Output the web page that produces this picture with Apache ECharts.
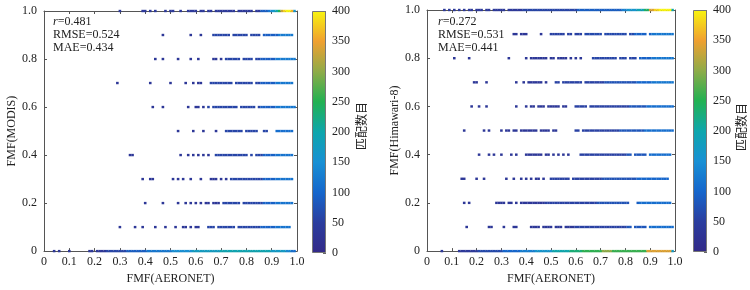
<!DOCTYPE html>
<html><head><meta charset="utf-8">
<script src="https://cdn.jsdelivr.net/npm/echarts@6/dist/echarts.min.js"></script>
<style>html,body{margin:0;padding:0;background:#fff}#c{width:750px;height:290px}</style>
</head><body><div id="c"></div>
<script>
// ---- colour scale (匹配数目) ----
const cbTicks = [0, 50, 100, 150, 200, 250, 300, 350, 400];
const cbColors = ['#332a88','#2b3d9e','#1566cc','#1890d4','#0ea6ac','#22b152','#8fab48','#f0a030','#f8f40f'];
const statsModis = ['0.481', '0.524', '0.434'];
const statsHima = ['0.272', '0.531', '0.441'];

// ---- FMF(MODIS) vs FMF(AERONET): rows of [count, x*100 list] ----
const modis10 = [[40,[30,39,40,42,44,48,50,51,54,57,58,59,60,62,63,65,66,68,69,70,71,72,73,74,75,77,78,79,80,81,82,84,85]],[90,[86,87,88]],[120,[89]],[150,[90]],[170,[91]],[200,[92]],[250,[93]],[330,[94]],[380,[95]],[400,[96,97]],[360,[98]],[160,[99]]];
const modis09 = [[35,[47,58,62]],[60,[67,68,69,70,71,72,73,75,76,77,78,79,80,82,83,84,85]],[90,[87,88,89,90,91,92]],[125,[93,94,95,96,97,98]]];
const modis08 = [[35,[44,47,53,58,61,67,68,70]],[60,[72,73,74,75,76,77,79,80,81,82,84,85]],[90,[86,87,88,89,90,91]],[125,[92,93,94,95,96,97,98,99]]];
const modis07 = [[35,[29,42,50,56,59,61,62]],[60,[66,67,68,69,70,71,72,73,74,76,77,78,79,80,81,82,84,85]],[90,[86,87,88,89,90,91]],[120,[92,93,94,95,96,97,98]]];
const modis06 = [[35,[43,47,57,60,61,63]],[60,[65,67,68,69,70,71,72,73,74,75,76,78,79,80,81,82,83,85]],[90,[86,87,88,89,90,91]],[120,[92,93,94,95,96,97,98,99]]];
const modis05 = [[35,[53,59,63,68]],[60,[72,73,74,75,76,77,78,80,81,82,83,84,87,88]],[110,[92,93,94,95,96,97,98]]];
const modis04 = [[35,[34,35,54,57,59,61,63,65]],[60,[68,69,70,71,72,73,74,75,76,77,78,79,80,82,84,85,86]],[95,[87,88,89,90,91]],[115,[92,93,94,95,96,97,98]]];
const modis03 = [[35,[39,42,43,51,53,55,58,62,66,67,68,70,72]],[60,[74,75,76,77,78,79,80,81,82,83,84,85,86]],[95,[87,88,89,90,91]],[115,[92,93,94,95,96,97,98]]];
const modis02 = [[35,[40,47,53,56,58,60,62,64,65,67,68,69]],[60,[71,72,73,74,75,76,77,79,80,81,82,83,84,85,86]],[95,[87,88,89,90,91]],[115,[92,93,94,95,96,97,98]]];
const modis01 = [[35,[30,36,39,44,48,52,55,56,58,60,61]],[60,[65,66,67,69,70,71,72,73,74,75,77,78,79,80,81,82,83,84,85]],[95,[86,87,88,89,90,91]],[115,[92,93,94,95,96,97]]];
const modis00 = [[35,[4,6,10,18,19,21,22,23,24]],[60,[25,26,27,28,29,30,31,32]],[90,[33,34,35,36,37,38,39,40]],[120,[41,42,43,44,45,46,47,48,49,50]],[150,[51,52,53,54,55,56,57,58]],[175,[59,60,61,62,63,64,65,66,67,68,69]],[195,[70,71,72,73,74,75,76,77,78,79,80,81,82,83,84,85,86,87,88,89]],[170,[90,91,92,93,94,95]],[140,[96,97]],[110,[98,99]]];

// ---- FMF(Himawari-8) vs FMF(AERONET) ----
const hima10 = [[40,[7,9,11,13,15,17,18,20,21,22,24,25,27,28,29,30,31,33,34,35,36,37,38]],[60,[39,40,41,42,43,44,45,46,47,48,49,50,51,52,53,54,55,56,57,58,59,60]],[90,[61,62,63,64,65,66,67,68,69,70,71,72,73,74,75,76,77,78]],[130,[79,80]],[160,[81,82,83,84]],[190,[85,86,87]],[240,[88,89]],[340,[90,91]],[380,[92,93]],[400,[94,95,96,97,98]],[200,[99]]];
const hima09 = [[35,[35,36,38,39,40,46]],[55,[50,51,52,53,54,55,57,58,60,61,62]],[65,[64,65,66,67,68,69,70,72,73,74,75,76,77,78,79,80,82,83]],[95,[84,85,86,87,88,90]],[120,[91,92,93,94,95,96,97,98,99]]];
const hima08 = [[35,[11,17,33,40,42,43,44,45,46,47,48,50,51,53,54,55,56,58,60,62]],[60,[67,68,69,70,71,72,73,74,75,76,78,79,80,82,83,84]],[95,[86,87,88,89,90]],[120,[91,92,93,94,95,96,97,98,99]]];
const hima07 = [[35,[19,20,24,36,39,41,42,43,44,45,46,48]],[55,[52,53,55,56,57,58,59,60,61,62,64,65,66,67,68,69,70,71]],[75,[72,73,74,75,76,77,78,79,80,81,82,83,84]],[100,[85,86,87,88,89,90]],[120,[91,92,93,94,95,96,97,98,99]]];
const hima06 = [[35,[18,21,24,36,40,42,43,45,46,47,49,50,51,52,53,55,56]],[55,[60,61,62,63,64,66,67,68,69,70,71,72,73,74,75,76,77,78,79,80,81]],[80,[82,83,84,85,86,87,88]],[110,[89,90,91,92,93,94,95,96,97,98,99]]];
const hima05 = [[35,[15,23,25,30,32,33,35,36,38,39,40,41,42,43,44,46,47,48,49,51,52]],[55,[60,61,63,64,65,66,67,68,69,70,71,72,73,74,75,76,77]],[80,[78,79,80,81,82,83,84,85,86,87]],[110,[88,89,90,91,92,93,94,95,96,97,98,99]]];
const hima04 = [[35,[21,25,27,30,34,36,40,41,42,43,44,45,46,48,49,51,53,55,57]],[55,[62,63,64,65,66,67,68,69,70,71,72,73,74,75,76,77,78,79,80]],[80,[81,82,84,85,86,87,88]],[110,[90,91,92,93,94,95,96,97,98]]];
const hima03 = [[35,[14,15,20,23,32,35,38,40,42,44,45,47]],[55,[50,51,52,53,54,55,56,57,59,60,61,62,63,64,65,66,67,68,69,70]],[75,[71,72,73,74,75,76,77,78,79,80,81,82,83,84]],[100,[85,86,87,88,89,90,91,92,93,94,95,96,97]]];
const hima02 = [[35,[15,17,28,29,30,31,33,34,36,38,39,40,41,42,43,44,45,46,47]],[55,[48,49,50,51,52,53,54,55,56,57,58,59,60,61,62,63,64,65,66,67,68]],[75,[69,70,71,72,73,74,75,76,77,78,79,80,81]],[90,[85]],[110,[86,87,88,89,90,91,92,93,94,95,96,97,98]]];
const hima01 = [[35,[16,25,26,31,35,36,42,43,44,45,47,48,49,50,52,53,54,56,57,58,59]],[55,[60,61,62,63,64,65,66,67,68,69,70,71,72,73,74,75,76,77,78,79,80]],[80,[81,82,84,85,86,87,88]],[110,[90,91,92,93,94,95,96,97,98,99]]];
const hima00 = [[40,[6,13,14,15,16,17,18,19,20]],[65,[21,22,23,24,25,26,27,28,29,30]],[100,[31,32,33,34,35,36,37]],[130,[38,39,40,41,42,43]],[160,[44,45,46,47,48,49,50]],[200,[51,52,53,54,55,56,57]],[230,[58,59,60,61,62]],[255,[63,64,65,66,67,68,69,70]],[300,[71,72,73,74]],[260,[75,76,77,78,79,80,81,82,83,84,85,86,87,88]],[340,[89,90,91,92,93,94,95,96,97,98]],[170,[99]]];

const modisRows = [[1.0,modis10],[0.9,modis09],[0.8,modis08],[0.7,modis07],[0.6,modis06],[0.5,modis05],[0.4,modis04],[0.3,modis03],[0.2,modis02],[0.1,modis01],[0,modis00]];
const himaRows = [[1.0,hima10],[0.9,hima09],[0.8,hima08],[0.7,hima07],[0.6,hima06],[0.5,hima05],[0.4,hima04],[0.3,hima03],[0.2,hima02],[0.1,hima01],[0,hima00]];

function build(rows){
  const out=[];
  rows.forEach(([y,groups])=>groups.forEach(([n,xs])=>xs.forEach(x=>out.push([x/100,y,n]))));
  out.sort((a,b)=>a[2]-b[2]);
  return out;
}

const SERIF = '"Liberation Serif","Times New Roman",serif';
const CJK = '"Noto Sans CJK SC",sans-serif';
const axisCol = '#555';
const fmt1 = v => (Math.abs(v) < 1e-9 ? '0' : Number(v).toFixed(1));

function mainX(grid, show){
  return {gridIndex:grid, type:'value', min:0, max:1, interval:0.1, position: show?'bottom':'top',
    name: show?'FMF(AERONET)':'', nameLocation:'middle', nameGap:18,
    nameTextStyle:{fontFamily:SERIF,fontSize:12,color:'#222'},
    axisLine:{show:true,onZero:false,lineStyle:{color:axisCol,width:1}},
    axisTick:{show:true,inside:true,length:3,lineStyle:{color:axisCol}},
    axisLabel:{show:show,margin:5,formatter:fmt1,fontFamily:SERIF,fontSize:12,color:'#222'},
    splitLine:{show:false}};
}
function mainY(grid, show, name){
  return {gridIndex:grid, type:'value', min:0, max:1, interval:0.2, position: show?'left':'right',
    name: show?name:'', nameLocation:'middle', nameGap:22,
    nameTextStyle:{fontFamily:SERIF,fontSize:12,color:'#222'},
    axisLine:{show:true,onZero:false,lineStyle:{color:axisCol,width:1}},
    axisTick:{show:true,inside:true,length:3,lineStyle:{color:axisCol}},
    axisLabel:{show:show,margin:7,formatter:fmt1,fontFamily:SERIF,fontSize:12,color:'#222'},
    splitLine:{show:false}};
}
function cbX(grid){
  return {gridIndex:grid,type:'category',data:['c'],show:false,boundaryGap:false};
}
function cbY(grid){
  return {gridIndex:grid,type:'value',min:cbTicks[0],max:cbTicks[cbTicks.length-1],interval:cbTicks[1]-cbTicks[0],position:'right',
    axisLine:{show:false},
    axisTick:{show:true,inside:true,length:3,lineStyle:{color:'#666'}},
    axisLabel:{margin:6,fontFamily:SERIF,fontSize:12,color:'#222'},
    splitLine:{show:false}};
}
function gradient(){
  return new echarts.graphic.LinearGradient(0,1,0,0, cbColors.map((c,i)=>({offset:i/(cbColors.length-1),color:c})));
}
function stats(x, vals){
  const ys=[23,36,49];
  const labels=['{i|r}=','RMSE=','MAE='];
  return labels.map((l,i)=>({type:'text',left:x,top:ys[i]-7,z:10,
    style:{rich:{i:{fontStyle:'italic',fontFamily:SERIF,fontSize:12,fill:'#222'}},text:l+vals[i],fontFamily:SERIF,fontSize:12,fill:'#222'}}));
}
function cbLabel(x,y){
  return {type:'text',x:x,y:y,rotation:Math.PI/2,z:10,
    style:{text:'匹配数目',fontFamily:CJK,fontSize:12,fill:'#222',textAlign:'center',textVerticalAlign:'middle'}};
}

const chart = echarts.init(document.getElementById('c'),null,{renderer:'canvas'});
const scatterStyle = {type:'scatter',symbol:'rect',symbolSize:[2.6,2.4],clip:false,large:false,animation:false,itemStyle:{opacity:1}};
chart.setOption({
  animation:false,
  backgroundColor:'#fff',
  grid:[
    {left:44,top:11,width:253,height:242},
    {left:427,top:10,width:248,height:242},
    {left:312,top:11,width:14,height:242},
    {left:693,top:10,width:14,height:242}
  ],
  xAxis:[mainX(0,true),mainX(0,false),mainX(1,true),mainX(1,false),cbX(2),cbX(3)],
  yAxis:[mainY(0,true,'FMF(MODIS)'),mainY(0,false),mainY(1,true,'FMF(Himawari-8)'),mainY(1,false),cbY(2),cbY(3)],
  visualMap:[
    {show:false,type:'continuous',min:0,max:400,dimension:2,seriesIndex:[0,1],inRange:{color:cbColors}}
  ],
  series:[
    Object.assign({},scatterStyle,{xAxisIndex:0,yAxisIndex:0,data:build(modisRows)}),
    Object.assign({},scatterStyle,{xAxisIndex:2,yAxisIndex:2,data:build(himaRows)}),
    {type:'bar',xAxisIndex:4,yAxisIndex:4,barWidth:'100%',silent:true,data:[cbTicks[cbTicks.length-1]],
      itemStyle:{color:gradient(),borderColor:'#777',borderWidth:1}},
    {type:'bar',xAxisIndex:5,yAxisIndex:5,barWidth:'100%',silent:true,data:[cbTicks[cbTicks.length-1]],
      itemStyle:{color:gradient(),borderColor:'#777',borderWidth:1}}
  ],
  graphic:[].concat(stats(53,statsModis),stats(438,statsHima),[cbLabel(361,126),cbLabel(741,127)])
});
</script></body></html>
